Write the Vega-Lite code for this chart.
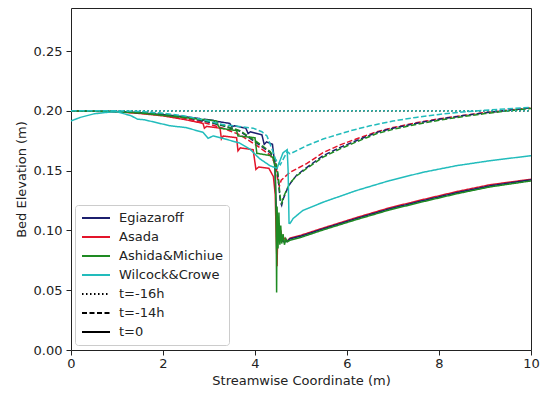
{
  "$schema": "https://vega.github.io/schema/vega-lite/v6.json",
  "width": 460,
  "height": 342,
  "autosize": {"type": "none"},
  "padding": {"left": 71, "top": 8, "right": 14, "bottom": 44},
  "config": {
    "font": "DejaVu Sans",
    "view": {"stroke": "#222222", "strokeWidth": 1},
    "axis": {"grid": false, "domain": false, "tickColor": "#222222", "tickSize": 5, "labelColor": "#222222", "labelFontSize": 13, "titleFontSize": 13, "titleFontWeight": "normal", "titleColor": "#222222"}
  },
  "data": {"values": [
    {"model":"Asada","time":"t=-16h","x":0,"y":0.2},{"model":"Asada","time":"t=-16h","x":10,"y":0.2},
    {"model":"Asada","time":"t=-14h","x":0,"y":0.2},{"model":"Asada","time":"t=-14h","x":1,"y":0.1995},{"model":"Asada","time":"t=-14h","x":2,"y":0.1965},{"model":"Asada","time":"t=-14h","x":2.5,"y":0.1935},{"model":"Asada","time":"t=-14h","x":2.9,"y":0.19},{"model":"Asada","time":"t=-14h","x":3.3,"y":0.1855},{"model":"Asada","time":"t=-14h","x":3.67,"y":0.18},{"model":"Asada","time":"t=-14h","x":4.04,"y":0.171},{"model":"Asada","time":"t=-14h","x":4.33,"y":0.163},{"model":"Asada","time":"t=-14h","x":4.45,"y":0.155},{"model":"Asada","time":"t=-14h","x":4.5,"y":0.141},{"model":"Asada","time":"t=-14h","x":4.53,"y":0.137},{"model":"Asada","time":"t=-14h","x":4.57,"y":0.142},{"model":"Asada","time":"t=-14h","x":4.7,"y":0.1465},{"model":"Asada","time":"t=-14h","x":4.76,"y":0.1486},{"model":"Asada","time":"t=-14h","x":5.13,"y":0.156},{"model":"Asada","time":"t=-14h","x":5.48,"y":0.165},{"model":"Asada","time":"t=-14h","x":5.85,"y":0.1715},{"model":"Asada","time":"t=-14h","x":6.2,"y":0.1765},{"model":"Asada","time":"t=-14h","x":6.65,"y":0.1825},{"model":"Asada","time":"t=-14h","x":7,"y":0.186},{"model":"Asada","time":"t=-14h","x":7.5,"y":0.19},{"model":"Asada","time":"t=-14h","x":8,"y":0.1933},{"model":"Asada","time":"t=-14h","x":8.5,"y":0.196},{"model":"Asada","time":"t=-14h","x":9,"y":0.1985},{"model":"Asada","time":"t=-14h","x":9.5,"y":0.2005},{"model":"Asada","time":"t=-14h","x":10,"y":0.2025},
    {"model":"Asada","time":"t=0","x":0,"y":0.2},{"model":"Asada","time":"t=0","x":1,"y":0.1992},{"model":"Asada","time":"t=0","x":1.5,"y":0.1978},{"model":"Asada","time":"t=0","x":2,"y":0.1958},{"model":"Asada","time":"t=0","x":2.5,"y":0.1925},{"model":"Asada","time":"t=0","x":2.87,"y":0.1895},{"model":"Asada","time":"t=0","x":2.9,"y":0.1855},{"model":"Asada","time":"t=0","x":2.95,"y":0.187},{"model":"Asada","time":"t=0","x":3.24,"y":0.1855},{"model":"Asada","time":"t=0","x":3.27,"y":0.1765},{"model":"Asada","time":"t=0","x":3.31,"y":0.179},{"model":"Asada","time":"t=0","x":3.6,"y":0.1775},{"model":"Asada","time":"t=0","x":3.63,"y":0.1665},{"model":"Asada","time":"t=0","x":3.68,"y":0.169},{"model":"Asada","time":"t=0","x":3.96,"y":0.1675},{"model":"Asada","time":"t=0","x":4.02,"y":0.151},{"model":"Asada","time":"t=0","x":4.08,"y":0.153},{"model":"Asada","time":"t=0","x":4.3,"y":0.152},{"model":"Asada","time":"t=0","x":4.4,"y":0.145},{"model":"Asada","time":"t=0","x":4.44,"y":0.13},{"model":"Asada","time":"t=0","x":4.46,"y":0.095},{"model":"Asada","time":"t=0","x":4.48,"y":0.07},{"model":"Asada","time":"t=0","x":4.5,"y":0.11},{"model":"Asada","time":"t=0","x":4.53,"y":0.09},{"model":"Asada","time":"t=0","x":4.56,"y":0.1},{"model":"Asada","time":"t=0","x":4.6,"y":0.0915},{"model":"Asada","time":"t=0","x":4.65,"y":0.0935},{"model":"Asada","time":"t=0","x":4.7,"y":0.091},{"model":"Asada","time":"t=0","x":4.76,"y":0.0935},{"model":"Asada","time":"t=0","x":5,"y":0.096},{"model":"Asada","time":"t=0","x":5.48,"y":0.102},{"model":"Asada","time":"t=0","x":6.2,"y":0.1107},{"model":"Asada","time":"t=0","x":6.93,"y":0.119},{"model":"Asada","time":"t=0","x":7.65,"y":0.1258},{"model":"Asada","time":"t=0","x":8.39,"y":0.1325},{"model":"Asada","time":"t=0","x":9.11,"y":0.1382},{"model":"Asada","time":"t=0","x":10,"y":0.1428},
    {"model":"Egiazaroff","time":"t=-16h","x":0,"y":0.2},{"model":"Egiazaroff","time":"t=-16h","x":10,"y":0.2},
    {"model":"Egiazaroff","time":"t=-14h","x":0,"y":0.2},{"model":"Egiazaroff","time":"t=-14h","x":1,"y":0.1995},{"model":"Egiazaroff","time":"t=-14h","x":2,"y":0.1972},{"model":"Egiazaroff","time":"t=-14h","x":2.5,"y":0.1945},{"model":"Egiazaroff","time":"t=-14h","x":3,"y":0.1905},{"model":"Egiazaroff","time":"t=-14h","x":3.3,"y":0.1875},{"model":"Egiazaroff","time":"t=-14h","x":3.67,"y":0.183},{"model":"Egiazaroff","time":"t=-14h","x":4.04,"y":0.173},{"model":"Egiazaroff","time":"t=-14h","x":4.33,"y":0.165},{"model":"Egiazaroff","time":"t=-14h","x":4.45,"y":0.158},{"model":"Egiazaroff","time":"t=-14h","x":4.5,"y":0.145},{"model":"Egiazaroff","time":"t=-14h","x":4.55,"y":0.124},{"model":"Egiazaroff","time":"t=-14h","x":4.58,"y":0.121},{"model":"Egiazaroff","time":"t=-14h","x":4.62,"y":0.127},{"model":"Egiazaroff","time":"t=-14h","x":4.7,"y":0.1345},{"model":"Egiazaroff","time":"t=-14h","x":4.76,"y":0.139},{"model":"Egiazaroff","time":"t=-14h","x":4.9,"y":0.146},{"model":"Egiazaroff","time":"t=-14h","x":5.13,"y":0.1528},{"model":"Egiazaroff","time":"t=-14h","x":5.48,"y":0.1625},{"model":"Egiazaroff","time":"t=-14h","x":5.85,"y":0.1694},{"model":"Egiazaroff","time":"t=-14h","x":6.2,"y":0.175},{"model":"Egiazaroff","time":"t=-14h","x":6.65,"y":0.182},{"model":"Egiazaroff","time":"t=-14h","x":7,"y":0.1855},{"model":"Egiazaroff","time":"t=-14h","x":7.5,"y":0.1895},{"model":"Egiazaroff","time":"t=-14h","x":8,"y":0.193},{"model":"Egiazaroff","time":"t=-14h","x":8.5,"y":0.1958},{"model":"Egiazaroff","time":"t=-14h","x":9,"y":0.1983},{"model":"Egiazaroff","time":"t=-14h","x":9.5,"y":0.2005},{"model":"Egiazaroff","time":"t=-14h","x":10,"y":0.2025},
    {"model":"Egiazaroff","time":"t=0","x":0,"y":0.2},{"model":"Egiazaroff","time":"t=0","x":1,"y":0.1995},{"model":"Egiazaroff","time":"t=0","x":1.5,"y":0.1985},{"model":"Egiazaroff","time":"t=0","x":2,"y":0.1968},{"model":"Egiazaroff","time":"t=0","x":2.5,"y":0.195},{"model":"Egiazaroff","time":"t=0","x":2.8,"y":0.1935},{"model":"Egiazaroff","time":"t=0","x":2.85,"y":0.1915},{"model":"Egiazaroff","time":"t=0","x":2.9,"y":0.193},{"model":"Egiazaroff","time":"t=0","x":3.1,"y":0.192},{"model":"Egiazaroff","time":"t=0","x":3.15,"y":0.1895},{"model":"Egiazaroff","time":"t=0","x":3.2,"y":0.191},{"model":"Egiazaroff","time":"t=0","x":3.45,"y":0.1895},{"model":"Egiazaroff","time":"t=0","x":3.5,"y":0.1865},{"model":"Egiazaroff","time":"t=0","x":3.55,"y":0.1875},{"model":"Egiazaroff","time":"t=0","x":3.8,"y":0.1855},{"model":"Egiazaroff","time":"t=0","x":3.85,"y":0.181},{"model":"Egiazaroff","time":"t=0","x":3.9,"y":0.1825},{"model":"Egiazaroff","time":"t=0","x":4.15,"y":0.18},{"model":"Egiazaroff","time":"t=0","x":4.2,"y":0.172},{"model":"Egiazaroff","time":"t=0","x":4.25,"y":0.174},{"model":"Egiazaroff","time":"t=0","x":4.38,"y":0.172},{"model":"Egiazaroff","time":"t=0","x":4.43,"y":0.155},{"model":"Egiazaroff","time":"t=0","x":4.46,"y":0.12},{"model":"Egiazaroff","time":"t=0","x":4.5,"y":0.1},{"model":"Egiazaroff","time":"t=0","x":4.55,"y":0.094},{"model":"Egiazaroff","time":"t=0","x":4.62,"y":0.0905},{"model":"Egiazaroff","time":"t=0","x":4.7,"y":0.0908},{"model":"Egiazaroff","time":"t=0","x":4.76,"y":0.093},{"model":"Egiazaroff","time":"t=0","x":5,"y":0.0952},{"model":"Egiazaroff","time":"t=0","x":5.48,"y":0.1013},{"model":"Egiazaroff","time":"t=0","x":6.2,"y":0.1099},{"model":"Egiazaroff","time":"t=0","x":6.93,"y":0.1181},{"model":"Egiazaroff","time":"t=0","x":7.65,"y":0.1249},{"model":"Egiazaroff","time":"t=0","x":8.39,"y":0.1316},{"model":"Egiazaroff","time":"t=0","x":9.11,"y":0.1373},{"model":"Egiazaroff","time":"t=0","x":10,"y":0.1423},
    {"model":"Ashida&Michiue","time":"t=-16h","x":0,"y":0.2},{"model":"Ashida&Michiue","time":"t=-16h","x":10,"y":0.2},
    {"model":"Ashida&Michiue","time":"t=-14h","x":0,"y":0.2},{"model":"Ashida&Michiue","time":"t=-14h","x":1,"y":0.1995},{"model":"Ashida&Michiue","time":"t=-14h","x":2,"y":0.1975},{"model":"Ashida&Michiue","time":"t=-14h","x":2.5,"y":0.195},{"model":"Ashida&Michiue","time":"t=-14h","x":3,"y":0.191},{"model":"Ashida&Michiue","time":"t=-14h","x":3.3,"y":0.188},{"model":"Ashida&Michiue","time":"t=-14h","x":3.67,"y":0.1835},{"model":"Ashida&Michiue","time":"t=-14h","x":4.04,"y":0.174},{"model":"Ashida&Michiue","time":"t=-14h","x":4.33,"y":0.166},{"model":"Ashida&Michiue","time":"t=-14h","x":4.45,"y":0.159},{"model":"Ashida&Michiue","time":"t=-14h","x":4.5,"y":0.147},{"model":"Ashida&Michiue","time":"t=-14h","x":4.55,"y":0.127},{"model":"Ashida&Michiue","time":"t=-14h","x":4.58,"y":0.123},{"model":"Ashida&Michiue","time":"t=-14h","x":4.62,"y":0.128},{"model":"Ashida&Michiue","time":"t=-14h","x":4.7,"y":0.135},{"model":"Ashida&Michiue","time":"t=-14h","x":4.76,"y":0.1395},{"model":"Ashida&Michiue","time":"t=-14h","x":4.9,"y":0.1455},{"model":"Ashida&Michiue","time":"t=-14h","x":5.13,"y":0.152},{"model":"Ashida&Michiue","time":"t=-14h","x":5.48,"y":0.1613},{"model":"Ashida&Michiue","time":"t=-14h","x":5.85,"y":0.1682},{"model":"Ashida&Michiue","time":"t=-14h","x":6.2,"y":0.174},{"model":"Ashida&Michiue","time":"t=-14h","x":6.65,"y":0.181},{"model":"Ashida&Michiue","time":"t=-14h","x":7,"y":0.1845},{"model":"Ashida&Michiue","time":"t=-14h","x":7.5,"y":0.1886},{"model":"Ashida&Michiue","time":"t=-14h","x":8,"y":0.1921},{"model":"Ashida&Michiue","time":"t=-14h","x":8.5,"y":0.1951},{"model":"Ashida&Michiue","time":"t=-14h","x":9,"y":0.1977},{"model":"Ashida&Michiue","time":"t=-14h","x":9.5,"y":0.2},{"model":"Ashida&Michiue","time":"t=-14h","x":10,"y":0.202},
    {"model":"Ashida&Michiue","time":"t=0","x":0,"y":0.2},{"model":"Ashida&Michiue","time":"t=0","x":0.5,"y":0.1998},{"model":"Ashida&Michiue","time":"t=0","x":1,"y":0.1993},{"model":"Ashida&Michiue","time":"t=0","x":1.5,"y":0.1982},{"model":"Ashida&Michiue","time":"t=0","x":2,"y":0.1962},{"model":"Ashida&Michiue","time":"t=0","x":2.5,"y":0.1942},{"model":"Ashida&Michiue","time":"t=0","x":3.17,"y":0.1915},{"model":"Ashida&Michiue","time":"t=0","x":3.2,"y":0.1875},{"model":"Ashida&Michiue","time":"t=0","x":3.24,"y":0.1855},{"model":"Ashida&Michiue","time":"t=0","x":3.6,"y":0.1835},{"model":"Ashida&Michiue","time":"t=0","x":3.63,"y":0.179},{"model":"Ashida&Michiue","time":"t=0","x":4,"y":0.1775},{"model":"Ashida&Michiue","time":"t=0","x":4.04,"y":0.1645},{"model":"Ashida&Michiue","time":"t=0","x":4.35,"y":0.1625},{"model":"Ashida&Michiue","time":"t=0","x":4.4,"y":0.16},{"model":"Ashida&Michiue","time":"t=0","x":4.44,"y":0.152},{"model":"Ashida&Michiue","time":"t=0","x":4.46,"y":0.11},{"model":"Ashida&Michiue","time":"t=0","x":4.47,"y":0.048},{"model":"Ashida&Michiue","time":"t=0","x":4.48,"y":0.12},{"model":"Ashida&Michiue","time":"t=0","x":4.5,"y":0.085},{"model":"Ashida&Michiue","time":"t=0","x":4.52,"y":0.115},{"model":"Ashida&Michiue","time":"t=0","x":4.54,"y":0.088},{"model":"Ashida&Michiue","time":"t=0","x":4.56,"y":0.104},{"model":"Ashida&Michiue","time":"t=0","x":4.58,"y":0.089},{"model":"Ashida&Michiue","time":"t=0","x":4.61,"y":0.097},{"model":"Ashida&Michiue","time":"t=0","x":4.64,"y":0.088},{"model":"Ashida&Michiue","time":"t=0","x":4.67,"y":0.093},{"model":"Ashida&Michiue","time":"t=0","x":4.7,"y":0.0905},{"model":"Ashida&Michiue","time":"t=0","x":4.76,"y":0.0918},{"model":"Ashida&Michiue","time":"t=0","x":5,"y":0.0942},{"model":"Ashida&Michiue","time":"t=0","x":5.48,"y":0.1004},{"model":"Ashida&Michiue","time":"t=0","x":6.2,"y":0.109},{"model":"Ashida&Michiue","time":"t=0","x":6.93,"y":0.1172},{"model":"Ashida&Michiue","time":"t=0","x":7.65,"y":0.124},{"model":"Ashida&Michiue","time":"t=0","x":8.39,"y":0.1307},{"model":"Ashida&Michiue","time":"t=0","x":9.11,"y":0.1364},{"model":"Ashida&Michiue","time":"t=0","x":10,"y":0.1414},
    {"model":"Wilcock&Crowe","time":"t=-16h","x":0,"y":0.2},{"model":"Wilcock&Crowe","time":"t=-16h","x":10,"y":0.2},
    {"model":"Wilcock&Crowe","time":"t=-14h","x":0,"y":0.2},{"model":"Wilcock&Crowe","time":"t=-14h","x":1,"y":0.2},{"model":"Wilcock&Crowe","time":"t=-14h","x":1.5,"y":0.1995},{"model":"Wilcock&Crowe","time":"t=-14h","x":2,"y":0.198},{"model":"Wilcock&Crowe","time":"t=-14h","x":2.5,"y":0.1955},{"model":"Wilcock&Crowe","time":"t=-14h","x":3,"y":0.1915},{"model":"Wilcock&Crowe","time":"t=-14h","x":3.3,"y":0.1885},{"model":"Wilcock&Crowe","time":"t=-14h","x":3.96,"y":0.1855},{"model":"Wilcock&Crowe","time":"t=-14h","x":4.15,"y":0.1825},{"model":"Wilcock&Crowe","time":"t=-14h","x":4.26,"y":0.179},{"model":"Wilcock&Crowe","time":"t=-14h","x":4.37,"y":0.168},{"model":"Wilcock&Crowe","time":"t=-14h","x":4.45,"y":0.159},{"model":"Wilcock&Crowe","time":"t=-14h","x":4.55,"y":0.155},{"model":"Wilcock&Crowe","time":"t=-14h","x":4.62,"y":0.16},{"model":"Wilcock&Crowe","time":"t=-14h","x":4.7,"y":0.166},{"model":"Wilcock&Crowe","time":"t=-14h","x":4.76,"y":0.164},{"model":"Wilcock&Crowe","time":"t=-14h","x":5.13,"y":0.171},{"model":"Wilcock&Crowe","time":"t=-14h","x":5.48,"y":0.1764},{"model":"Wilcock&Crowe","time":"t=-14h","x":6.07,"y":0.1833},{"model":"Wilcock&Crowe","time":"t=-14h","x":6.5,"y":0.1875},{"model":"Wilcock&Crowe","time":"t=-14h","x":7,"y":0.1915},{"model":"Wilcock&Crowe","time":"t=-14h","x":7.5,"y":0.1945},{"model":"Wilcock&Crowe","time":"t=-14h","x":8,"y":0.197},{"model":"Wilcock&Crowe","time":"t=-14h","x":8.5,"y":0.199},{"model":"Wilcock&Crowe","time":"t=-14h","x":9,"y":0.2005},{"model":"Wilcock&Crowe","time":"t=-14h","x":9.5,"y":0.2018},{"model":"Wilcock&Crowe","time":"t=-14h","x":10,"y":0.203},
    {"model":"Wilcock&Crowe","time":"t=0","x":0,"y":0.1915},{"model":"Wilcock&Crowe","time":"t=0","x":0.2,"y":0.1945},{"model":"Wilcock&Crowe","time":"t=0","x":0.5,"y":0.1975},{"model":"Wilcock&Crowe","time":"t=0","x":0.8,"y":0.1988},{"model":"Wilcock&Crowe","time":"t=0","x":1,"y":0.1992},{"model":"Wilcock&Crowe","time":"t=0","x":1.3,"y":0.196},{"model":"Wilcock&Crowe","time":"t=0","x":1.45,"y":0.193},{"model":"Wilcock&Crowe","time":"t=0","x":1.6,"y":0.1925},{"model":"Wilcock&Crowe","time":"t=0","x":2.15,"y":0.1875},{"model":"Wilcock&Crowe","time":"t=0","x":2.5,"y":0.186},{"model":"Wilcock&Crowe","time":"t=0","x":2.87,"y":0.182},{"model":"Wilcock&Crowe","time":"t=0","x":2.98,"y":0.177},{"model":"Wilcock&Crowe","time":"t=0","x":3.09,"y":0.179},{"model":"Wilcock&Crowe","time":"t=0","x":3.3,"y":0.177},{"model":"Wilcock&Crowe","time":"t=0","x":3.67,"y":0.173},{"model":"Wilcock&Crowe","time":"t=0","x":3.89,"y":0.168},{"model":"Wilcock&Crowe","time":"t=0","x":4.1,"y":0.16},{"model":"Wilcock&Crowe","time":"t=0","x":4.33,"y":0.154},{"model":"Wilcock&Crowe","time":"t=0","x":4.48,"y":0.152},{"model":"Wilcock&Crowe","time":"t=0","x":4.61,"y":0.165},{"model":"Wilcock&Crowe","time":"t=0","x":4.7,"y":0.1675},{"model":"Wilcock&Crowe","time":"t=0","x":4.72,"y":0.15},{"model":"Wilcock&Crowe","time":"t=0","x":4.74,"y":0.106},{"model":"Wilcock&Crowe","time":"t=0","x":4.76,"y":0.1058},{"model":"Wilcock&Crowe","time":"t=0","x":4.83,"y":0.11},{"model":"Wilcock&Crowe","time":"t=0","x":5.04,"y":0.1167},{"model":"Wilcock&Crowe","time":"t=0","x":5.48,"y":0.1236},{"model":"Wilcock&Crowe","time":"t=0","x":6.2,"y":0.1333},{"model":"Wilcock&Crowe","time":"t=0","x":6.93,"y":0.1417},{"model":"Wilcock&Crowe","time":"t=0","x":7.65,"y":0.1486},{"model":"Wilcock&Crowe","time":"t=0","x":8.39,"y":0.1542},{"model":"Wilcock&Crowe","time":"t=0","x":9.11,"y":0.1583},{"model":"Wilcock&Crowe","time":"t=0","x":10,"y":0.1625}
  ]},
  "mark": {"type": "line", "strokeWidth": 1.5},
  "encoding": {
    "x": {"field": "x", "type": "quantitative", "scale": {"domain": [0, 10], "nice": false, "zero": false}, "axis": {"values": [0, 2, 4, 6, 8, 10], "title": "Streamwise Coordinate (m)", "labelPadding": 2, "titlePadding": 4, "labelFlush": false}},
    "y": {"field": "y", "type": "quantitative", "scale": {"domain": [0, 0.286], "nice": false}, "axis": {"values": [0, 0.05, 0.1, 0.15, 0.2, 0.25], "format": ".2f", "title": "Bed Elevation (m)", "labelPadding": 4, "titlePadding": 5, "labelFlush": false}},
    "color": {"field": "model", "type": "nominal",
      "scale": {"domain": ["Egiazaroff", "Asada", "Ashida&Michiue", "Wilcock&Crowe", "t=-16h", "t=-14h", "t=0"], "range": ["#1c1f6e", "#e3142a", "#1e8a22", "#22bcbc", "#000000", "#000000", "#000000"]},
      "legend": {"orient": "none", "legendX": 4, "legendY": 197, "title": null, "symbolType": "stroke", "symbolSize": 784, "symbolStrokeWidth": 2, "symbolOpacity": 1, "labelFontSize": 13, "labelColor": "#222222", "labelOffset": 8, "fillColor": "white", "strokeColor": "#cccccc", "cornerRadius": 3, "padding": 6, "rowPadding": 5, "clipHeight": 14,
        "encode": {"symbols": {"update": {"strokeDash": {"signal": "datum.value === 't=-16h' ? [1.5, 2.5] : datum.value === 't=-14h' ? [5, 2.5] : [1, 0]"}}}}}},
    "strokeDash": {"field": "time", "type": "nominal", "scale": {"domain": ["t=-16h", "t=-14h", "t=0"], "range": [[1.5, 2.5], [5.5, 2.4], [1, 0]]}, "legend": null}
  }
}
